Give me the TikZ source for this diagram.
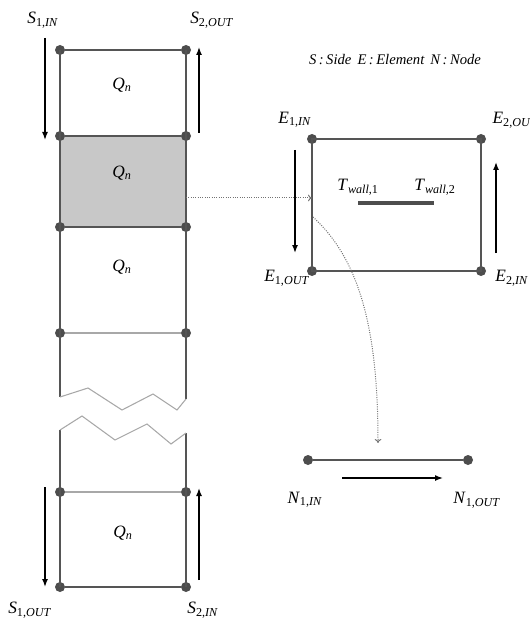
\documentclass[tikz,border=0pt]{standalone}
\usepackage{fontspec}
\setmainfont{Liberation Serif}
\usetikzlibrary{arrows.meta}
\definecolor{WallGray}{HTML}{555555}
\definecolor{DotGray}{HTML}{4D4D4D}
\definecolor{ThinGray}{HTML}{A8A8A8}
\definecolor{ShadeGray}{HTML}{C8C8C8}
\newcommand{\sym}[3]{\textit{#1}\textsubscript{#2\textit{#3}}}

\begin{document}
\begin{tikzpicture}[x=0.75pt,y=-0.75pt,every node/.style={font=\fontsize{13}{15}\selectfont,inner sep=1pt},
  dot/.style={circle,fill=DotGray,inner sep=0pt,minimum size=7.5pt},
  wall/.style={WallGray,line width=1.4pt},thinline/.style={ThinGray,line width=0.8pt},
  arr/.style={-{Latex[length=6pt,width=4.5pt]},line width=1.1pt},
  dotarr/.style={-{To[length=3pt,width=5pt]},densely dotted,black!55,line width=0.75pt}]
\useasboundingbox (0,0) rectangle (530,623);
% side column
\fill[ShadeGray] (60,136) rectangle (186,227);
\foreach \n/\y in {1/50,2/136,3/227,4/333,5/492,6/587}{
  \node[dot] (l\n) at (60,\y) {};
  \node[dot] (r\n) at (186,\y) {};
}
\draw[wall] (l1.center)--(l4.center)--(60,397);
\draw[wall] (r1.center)--(r4.center)--(186,399);
\draw[wall] (60,430)--(l6.center);
\draw[wall] (186,433)--(r6.center);
\draw[thinline] (60,397)--(88,388)--(122,410)--(153,394)--(177,410)--(186,399);
\draw[thinline] (60,430)--(82,416)--(115,440)--(147,424)--(171,444)--(186,433);
\draw[wall,line width=1.8pt] (l1)--(r1);
\draw[wall,line width=1.8pt] (l6)--(r6);
\draw[wall,line width=0.9pt] (l2)--(r2);
\draw[wall,line width=0.9pt] (l3)--(r3);
\draw[thinline] (l4)--(r4);
\draw[thinline] (l5)--(r5);
\node (q1) at (122,85) {\sym{Q}{}{n}};
\node (q2) at (122,173) {\sym{Q}{}{n}};
\node (q3) at (122,267) {\sym{Q}{}{n}};
\node (q4) at (123,533) {\sym{Q}{}{n}};
\node (s1in) at (43,20) {\sym{S}{1,}{IN}};
\node (s2out) at (212,20) {\sym{S}{2,}{OUT}};
\node (s1out) at (30,610) {\sym{S}{1,}{OUT}};
\node (s2in) at (203,610) {\sym{S}{2,}{IN}};
\coordinate (t1) at (45,38); \coordinate (t2) at (45,140);
\coordinate (t3) at (199,133); \coordinate (t4) at (199,47);
\coordinate (t5) at (45,487); \coordinate (t6) at (45,587);
\coordinate (t7) at (199,580); \coordinate (t8) at (199,488);
\draw[arr] (t1)--(t2);
\draw[arr] (t3)--(t4);
\draw[arr] (t5)--(t6);
\draw[arr] (t7)--(t8);
% element
\node[font=\fontsize{11}{13}\selectfont\itshape] (key) at (395,60) {S\,:\,Side\, E\,:\,Element\, N\,:\,Node};
\node[dot] (e1) at (312,139) {};
\node[dot] (e2) at (481,139) {};
\node[dot] (e3) at (312,271) {};
\node[dot] (e4) at (481,271) {};
\draw[wall] (e1.center)--(e2.center)--(e4.center)--(e3.center)--cycle;
\node (e1in) at (295,120) {\sym{E}{1,}{IN}};
\node[anchor=west] (e2out) at (491,120) {\sym{E}{2,}{OUT}};
\node (e1out) at (287,278) {\sym{E}{1,}{OUT}};
\node (e2in) at (512,278) {\sym{E}{2,}{IN}};
\node (tw1) at (358,187) {\textit{T}\textsubscript{\textit{wall},1}};
\node (tw2) at (435,187) {\textit{T}\textsubscript{\textit{wall},2}};
\draw[DotGray,line width=3pt] (358,203)--(434,203);
\coordinate (u1) at (295,150); \coordinate (u2) at (295,253);
\coordinate (u3) at (496,253); \coordinate (u4) at (496,162);
\draw[arr] (u1)--(u2);
\draw[arr] (u3)--(u4);
% node
\node[dot] (n1) at (308,460) {};
\node[dot] (n2) at (468,460) {};
\draw[wall] (n1)--(n2);
\node (n1in) at (305,500) {\sym{N}{1,}{IN}};
\node (n1out) at (477,500) {\sym{N}{1,}{OUT}};
\coordinate (v1) at (342,478); \coordinate (v2) at (443,478);
\draw[arr] (v1)--(v2);
% links
\coordinate (blk) at (186,198);
\coordinate (ein) at (312,198);
\coordinate (eout) at (313,217);
\coordinate (nin) at (378,443);
\draw[dotarr] (blk)--(ein);
\draw[dotarr] (eout) .. controls (360,260) and (378,330) .. (nin);
\end{tikzpicture}
\end{document}
